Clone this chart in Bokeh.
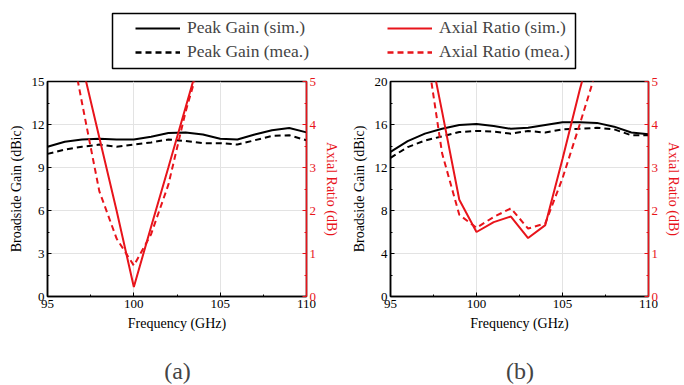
from bokeh.plotting import figure
from bokeh.models import (Range1d, LinearAxis, SingleIntervalTicker, Legend, LegendItem,
                          BoxAnnotation, Label)
from bokeh.layouts import column, row
from bokeh.embed import file_html
from bokeh.resources import INLINE

# ---------------- data ----------------
freq = [95, 96, 97, 98, 99, 100, 101, 102, 103, 104, 105, 106, 107, 108, 109, 110]

# (a)
gain_sim_a = [10.45, 10.8, 10.95, 11.0, 10.95, 10.95, 11.15, 11.4, 11.45, 11.3, 11.0, 10.95, 11.3, 11.6, 11.75, 11.45]
gain_mea_a = [9.95, 10.25, 10.45, 10.6, 10.45, 10.6, 10.75, 10.95, 10.85, 10.7, 10.7, 10.6, 10.9, 11.2, 11.25, 10.9]
ar_sim_a = [8.8, 7.1, 5.4, 3.7, 2.0, 0.22, 1.62, 3.0, 4.4, 5.8, 7.2, 8.6, 10.0, 11.4, 12.8, 14.2]
ar_mea_a = [8.7, 6.6, 4.5, 2.45, 1.35, 0.72, 1.45, 2.6, 4.3, 5.7, 7.1, 8.5, 9.9, 11.3, 12.7, 14.1]

# (b)
gain_sim_b = [13.45, 14.45, 15.15, 15.6, 15.95, 16.05, 15.85, 15.6, 15.7, 15.95, 16.2, 16.2, 16.15, 15.8, 15.25, 15.1]
gain_mea_b = [12.9, 13.9, 14.5, 14.9, 15.3, 15.4, 15.35, 15.15, 15.4, 15.25, 15.55, 15.6, 15.7, 15.55, 15.0, 15.0]
ar_sim_b = [10.3, 8.3, 6.3, 4.3, 2.25, 1.5, 1.73, 1.86, 1.36, 1.66, 3.2, 4.8, 6.3, 7.8, 9.3, 10.8]
ar_mea_b = [10.0, 8.0, 6.0, 3.33, 1.9, 1.6, 1.85, 2.05, 1.58, 1.7, 2.75, 4.0, 5.3, 6.6, 7.9, 9.2]

labels = ["Peak Gain (sim.)", "Peak Gain (mea.)", "Axial Ratio (sim.)", "Axial Ratio (mea.)"]
captions = ["(a)", "(b)"]

FONT = "Liberation Serif"
RED = "#e8141b"
DASH = "6 4"


def style_axis(ax, color, interval, label):
    ax.ticker = SingleIntervalTicker(interval=interval, num_minor_ticks=2)
    ax.axis_label = label
    ax.axis_label_text_font = FONT
    ax.axis_label_text_font_style = "normal"
    ax.axis_label_text_font_size = "14px"
    ax.axis_label_text_color = color
    ax.axis_label_standoff = 5
    ax.major_label_text_font = FONT
    ax.major_label_text_font_size = "13px"
    ax.major_label_text_color = color
    ax.major_label_standoff = 3
    ax.axis_line_color = color
    ax.axis_line_width = 1.5
    ax.major_tick_line_color = color
    ax.minor_tick_line_color = color
    ax.major_tick_in = 4
    ax.major_tick_out = 0
    ax.minor_tick_in = 2
    ax.minor_tick_out = 0


def make_panel(gs, gm, ars, arm, gmax, gstep, bl, br):
    p = figure(width=342, height=265, output_backend="svg", toolbar_location=None,
               x_range=Range1d(95, 110), y_range=Range1d(0, gmax),
               min_border_left=bl, min_border_right=br, min_border_top=6, min_border_bottom=44)
    p.extra_y_ranges = {"ar": Range1d(0, 5)}
    p.background_fill_color = "white"
    p.border_fill_color = "white"
    p.outline_line_color = "black"
    p.outline_line_width = 1.5

    style_axis(p.xaxis[0], "black", 5, "Frequency (GHz)")
    style_axis(p.yaxis[0], "black", gstep, "Broadside Gain (dBic)")
    rax = LinearAxis(y_range_name="ar")
    style_axis(rax, RED, 1, "Axial Ratio (dB)")
    p.add_layout(rax, "right")

    p.xgrid.grid_line_color = "#e3e3e3"
    p.ygrid.grid_line_color = "#e3e3e3"

    p.line(freq, gs, line_color="black", line_width=2)
    p.line(freq, gm, line_color="black", line_width=2, line_dash=DASH)
    p.line(freq, ars, line_color=RED, line_width=2, y_range_name="ar")
    p.line(freq, arm, line_color=RED, line_width=2, line_dash=DASH, y_range_name="ar")
    return p


def make_caption(panel, caption, bl, br):
    c = figure(width=342, height=45, output_backend="svg", toolbar_location=None,
               x_range=panel.x_range, y_range=Range1d(0, 3),
               min_border_left=bl, min_border_right=br, min_border_top=0, min_border_bottom=0)
    c.axis.visible = False
    c.grid.visible = False
    c.outline_line_color = None
    c.background_fill_color = "white"
    c.border_fill_color = "white"
    xr = panel.x_range
    c.add_layout(Label(x=(xr.start + xr.end) / 2, y=1, text=caption,
                       text_align="center", text_baseline="middle",
                       text_font=FONT, text_font_size="24px"))
    return c


pa = make_panel(gain_sim_a, gain_mea_a, ar_sim_a, ar_mea_a, 15, 3, 47, 35)
pb = make_panel(gain_sim_b, gain_mea_b, ar_sim_b, ar_mea_b, 20, 4, 48, 35)
ca = make_caption(pa, captions[0], 47, 35)
cb = make_caption(pb, captions[1], 48, 35)

# ---------------- legend strip ----------------
lg = figure(width=684, height=75, output_backend="svg", toolbar_location=None,
            x_range=Range1d(0, 684), y_range=Range1d(0, 75),
            min_border=0, min_border_left=0, min_border_right=0, min_border_top=0, min_border_bottom=0)
lg.axis.visible = False
lg.grid.visible = False
lg.outline_line_color = None
lg.background_fill_color = "white"
lg.border_fill_color = "white"
# proxies for the legend, drawn on a range that is out of view
lg.extra_y_ranges = {"off": Range1d(1000, 1001)}
r1 = lg.line(freq, gain_sim_a, line_color="black", line_width=2, y_range_name="off")
r2 = lg.line(freq, gain_mea_a, line_color="black", line_width=2.5, line_dash=DASH, y_range_name="off")
r3 = lg.line(freq, ar_sim_a, line_color=RED, line_width=2, y_range_name="off")
r4 = lg.line(freq, ar_mea_a, line_color=RED, line_width=2.5, line_dash=DASH, y_range_name="off")

lg.add_layout(BoxAnnotation(left=112, right=575, bottom=7, top=62, fill_alpha=0,
                            line_color="black", line_alpha=1, line_width=1.5))


def mk_legend(items, loc):
    L = Legend(items=items, location=loc, padding=0, margin=0, spacing=3,
               glyph_width=45, glyph_height=20, label_height=20, label_standoff=7,
               label_text_font=FONT, label_text_font_size="17.5px",
               border_line_alpha=0, background_fill_alpha=0)
    return L


lg.add_layout(mk_legend([LegendItem(label=labels[0], renderers=[r1]),
                         LegendItem(label=labels[1], renderers=[r2])], (135, 13)))
lg.add_layout(mk_legend([LegendItem(label=labels[2], renderers=[r3]),
                         LegendItem(label=labels[3], renderers=[r4])], (387, 13)))

layout = column(lg, row(pa, pb, spacing=0), row(ca, cb, spacing=0), spacing=0)

open("out.html", "w").write(file_html(layout, INLINE))
